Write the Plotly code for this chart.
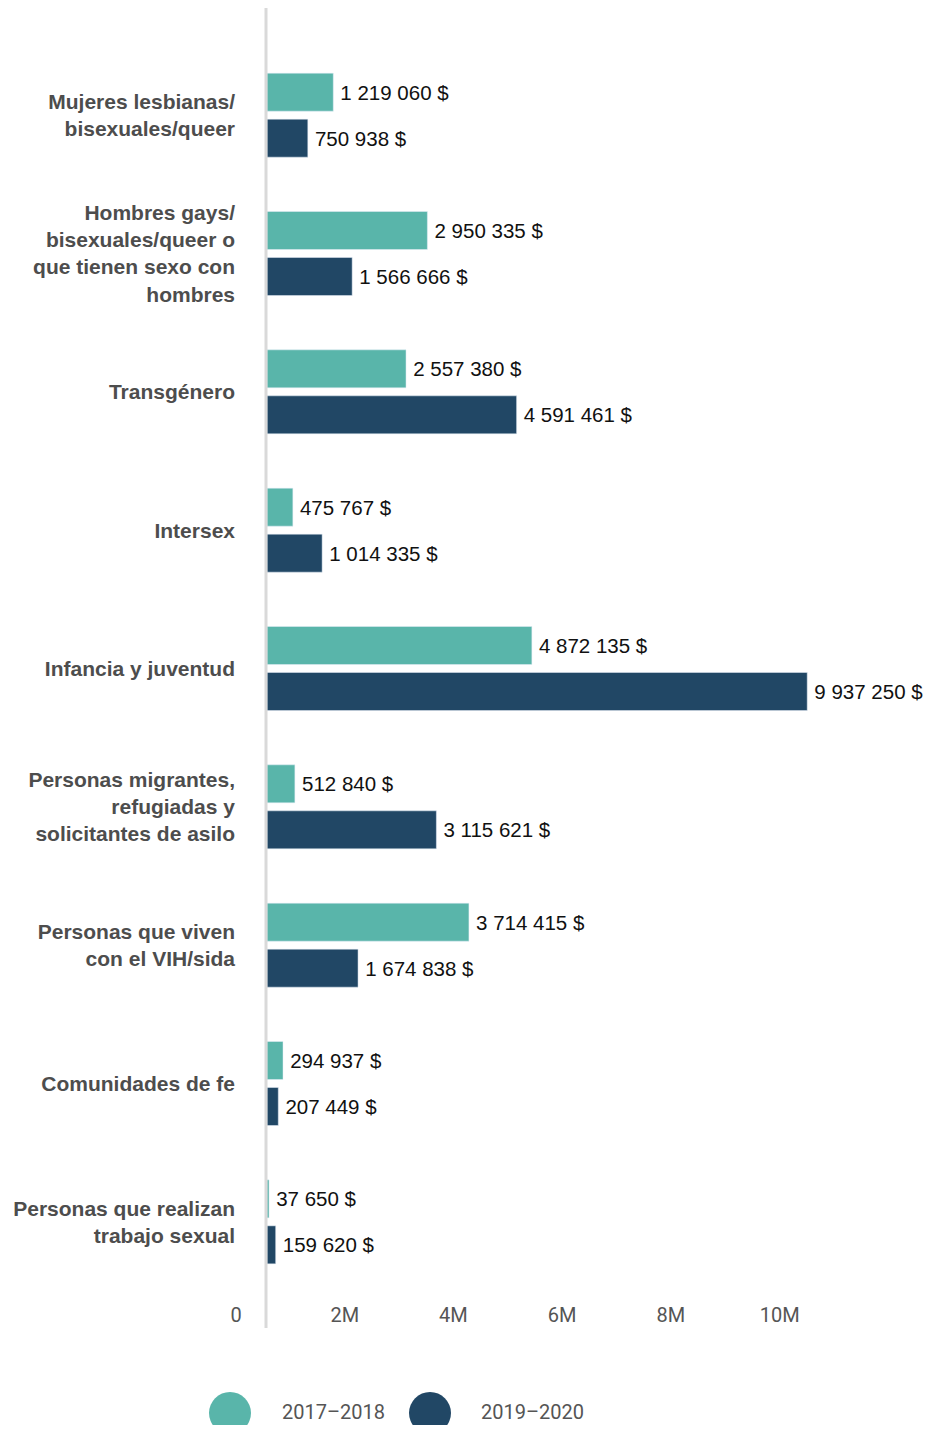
import plotly.graph_objects as go

categories = [
    "Mujeres lesbianas/<br>bisexuales/queer",
    "Hombres gays/<br>bisexuales/queer o<br>que tienen sexo con<br>hombres",
    "Transgénero",
    "Intersex",
    "Infancia y juventud",
    "Personas migrantes,<br>refugiadas y<br>solicitantes de asilo",
    "Personas que viven<br>con el VIH/sida",
    "Comunidades de fe",
    "Personas que realizan<br>trabajo sexual",
]
series_names = ["2017–2018", "2019–2020"]
vals_1718 = [1219060, 2950335, 2557380, 475767, 4872135, 512840, 3714415, 294937, 37650]
vals_1920 = [750938, 1566666, 4591461, 1014335, 9937250, 3115621, 1674838, 207449, 159620]
tick_vals = [0, 2e6, 4e6, 6e6, 8e6, 10e6]
tick_text = ["0", "2M", "4M", "6M", "8M", "10M"]

TEAL, NAVY = "#59b5aa", "#214765"
OFF = 8  # page body margin
W, H = 933 - 2 * OFF, 1433 - 2 * OFF
L, T = 267 - OFF, 46 - OFF
R = W - (865 - OFF)
B = H - (1291 - OFF)
PW, PH = W - L - R, H - T - B


def money(v):
    return "\u2009" + f"{v:,}".replace(",", " ") + " $"


def px_x(p):  # screen pixel -> paper x
    return (p - OFF - L) / PW


def px_y(p):  # screen pixel -> paper y
    return (H - B - (p - OFF)) / PH


fig = go.Figure()
for name, vals, col in [(series_names[0], vals_1718, TEAL), (series_names[1], vals_1920, NAVY)]:
    fig.add_trace(go.Bar(
        y=categories, x=vals, orientation="h", name=name, marker_color=col,
        text=[money(v) for v in vals], textposition="outside", cliponaxis=False,
        textfont=dict(family="Liberation Sans, Arial, sans-serif", size=20.5, color="#111"),
        showlegend=False, hoverinfo="x+name"))

# zero line running past the plot area
fig.add_shape(type="line", xref="paper", yref="paper", x0=px_x(266), x1=px_x(266),
              y0=px_y(8), y1=px_y(1328), line=dict(color="#d9d9d9", width=3), layer="above")

# legend drawn by hand (large circles)
for cx, tx, col, name in [(230, 280, TEAL, series_names[0]), (430, 479, NAVY, series_names[1])]:
    fig.add_shape(type="circle", xref="paper", yref="paper", fillcolor=col, line_width=0,
                  x0=px_x(cx - 21), x1=px_x(cx + 21), y0=px_y(1392), y1=px_y(1434))
    fig.add_annotation(text=name, xref="paper", yref="paper", x=px_x(tx), y=px_y(1412),
                       xanchor="left", yanchor="middle", showarrow=False,
                       font=dict(family="Roboto", size=20, color="#555"))

fig.update_layout(
    width=W, height=H, margin=dict(l=L, r=R, t=T, b=B, autoexpand=False),
    barmode="group", bargap=0.335, bargroupgap=0.174,
    plot_bgcolor="white", paper_bgcolor="white",
    xaxis=dict(range=[0, 11e6], tickvals=tick_vals, ticktext=tick_text, showgrid=False,
               zeroline=False, showline=False, ticklabelshift=-31, ticklabelstandoff=10,
               automargin=False,
               tickfont=dict(family="Roboto", size=20, color="#555")),
    yaxis=dict(autorange="reversed", showgrid=False, zeroline=False, showline=False,
               ticklabelstandoff=31, automargin=False,
               tickfont=dict(family="Liberation Sans, Arial, sans-serif", size=21, color="#4d4d4d",
                             weight="bold")),
)

fig.write_html("out.html")
